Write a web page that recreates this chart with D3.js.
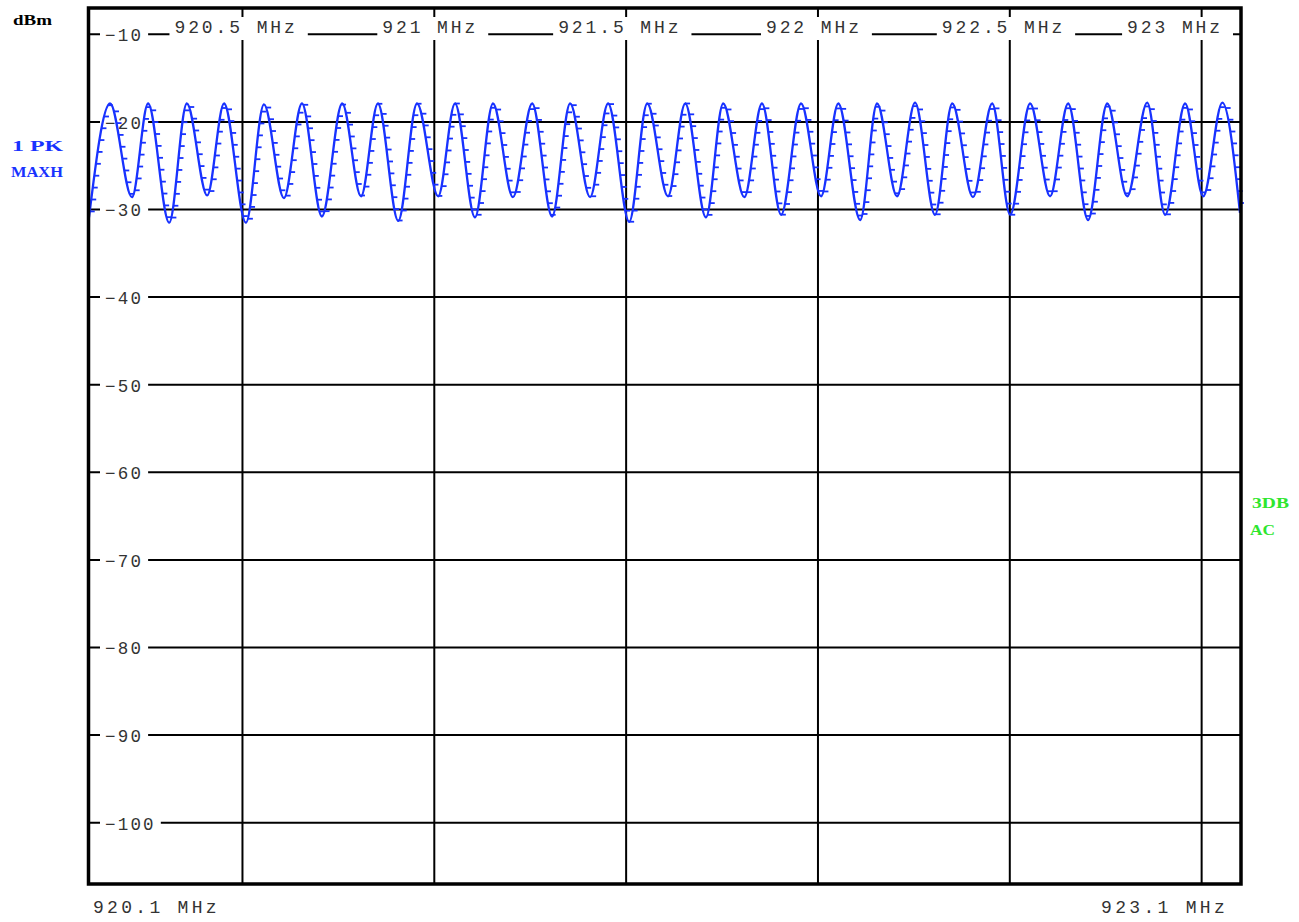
<!DOCTYPE html>
<html><head><meta charset="utf-8">
<script src="https://cdn.jsdelivr.net/npm/d3@7"></script>
<style>html,body{margin:0;padding:0;background:#fff;}svg{display:block;}</style>
</head><body>
<svg id="c" width="1299" height="922"></svg>
<script>
// ---- data ----
const freqMHz = [920.100, 920.155, 920.212, 920.254, 920.309, 920.355, 920.408, 920.452, 920.509, 920.556,
  920.608, 920.655, 920.707, 920.760, 920.809, 920.853, 920.906, 920.955, 921.010, 921.054,
  921.106, 921.153, 921.205, 921.255, 921.307, 921.354, 921.406, 921.453, 921.508, 921.555,
  921.609, 921.654, 921.708, 921.753, 921.808, 921.854, 921.904, 921.956, 922.008, 922.053,
  922.110, 922.154, 922.206, 922.253, 922.305, 922.350, 922.404, 922.454, 922.501, 922.553,
  922.605, 922.652, 922.704, 922.754, 922.806, 922.858, 922.905, 922.957, 923.004, 923.054, 923.100];
const levelDbm = [-30.9, -17.9, -28.6, -17.9, -31.5, -17.9, -28.4, -17.9, -31.5, -18.0,
  -28.7, -17.9, -30.8, -17.9, -28.5, -17.9, -31.3, -17.9, -28.5, -17.9,
  -30.9, -17.9, -28.6, -17.9, -30.8, -17.9, -28.6, -17.9, -31.4, -17.9,
  -28.5, -17.9, -30.9, -17.9, -28.6, -17.9, -30.6, -17.9, -28.5, -17.9,
  -31.2, -17.9, -28.5, -17.8, -30.6, -17.9, -28.6, -17.9, -30.6, -17.9,
  -28.5, -17.9, -31.2, -17.9, -28.5, -17.8, -30.6, -17.9, -28.5, -17.8, -30.4];
const yTickValues = [-10, -20, -30, -40, -50, -60, -70, -80, -90, -100];
const xGridValues = [920.5, 921, 921.5, 922, 922.5, 923];
const startLabel = "920.1 MHz";
const stopLabel = "923.1 MHz";
const unitLabel = "dBm";
const traceLabels = ["1 PK", "MAXH"];
const sideLabels = ["3DB", "AC"];

// ---- layout ----
const pL = 89, pR = 1240, pT = 8, pB = 884;
const x = d3.scaleLinear().domain([920.1, 923.1]).range([pL, pR]);
const y = d3.scaleLinear().domain([-107, -7]).range([pB, pT]);
const svg = d3.select("#c");
const BLUE = "#1832ff", GREEN = "#2ee62e", TXT = "#333";
const mono = "'Liberation Mono', 'DejaVu Sans Mono', monospace";

svg.append("rect").attr("width", 1299).attr("height", 922).attr("fill", "#fff");

// grid via axes
const gy = svg.append("g").attr("transform", `translate(${pL},0)`)
  .call(d3.axisLeft(y).tickValues(yTickValues).tickSize(-(pR - pL)).tickFormat("").offset(0));
gy.select(".domain").remove();
gy.selectAll("line").attr("stroke", "#000").attr("stroke-width", 2);

const gx = svg.append("g").attr("transform", `translate(0,${pT})`)
  .call(d3.axisTop(x).tickValues(xGridValues).tickSize(-(pB - pT)).tickFormat("").offset(0));
gx.select(".domain").remove();
gx.selectAll("line").attr("stroke", "#000").attr("stroke-width", 2);

// y labels with white boxes
const yl = svg.append("g");
yTickValues.forEach(v => {
  const g = yl.append("g");
  const t = g.append("text").attr("x", 105).attr("y", y(v) + 7)
    .attr("font-family", mono).attr("font-size", 17.5).attr("letter-spacing", 2.2)
    .attr("fill", TXT).text("\u2212" + Math.abs(v));
  const w = t.node().getComputedTextLength();
  g.insert("rect", "text").attr("x", 100).attr("y", y(v) - 6)
    .attr("width", w + 10).attr("height", 16).attr("fill", "#fff");
});

// top frequency labels on the -10 line
const tl = svg.append("g");
xGridValues.forEach(v => {
  const half = Math.abs(v - Math.round(v)) > 1e-9;
  const g = tl.append("g");
  const t = g.append("text").attr("y", 33)
    .attr("font-family", mono).attr("font-size", 18).attr("letter-spacing", 2.9)
    .attr("fill", TXT).text(String(v) + " MHz");
  const w = t.node().getComputedTextLength();
  let sx = half ? x(v) - 68 : x(v) - 52;
  if (sx + w + 10 > pR - 7) sx = pR - 7 - 10 - w;
  t.attr("x", sx);
  g.insert("rect", "text").attr("x", sx - 5).attr("y", 17)
    .attr("width", w + 15).attr("height", 23).attr("fill", "#fff");
});

// trace
const pts = freqMHz.map((f, i) => [x(f), y(levelDbm[i])]);
const line = d3.line().curve(d3.curveMonotoneX);
const path = svg.append("path").attr("d", line(pts)).attr("fill", "none")
  .attr("stroke", BLUE).attr("stroke-width", 2.3).attr("stroke-linejoin", "round");
const pn = path.node(), L = pn.getTotalLength();
const tk = svg.append("g").attr("stroke", BLUE).attr("stroke-width", 1.8);
for (let s = 6; s < L; s += 12) {
  const p = pn.getPointAtLength(s);
  tk.append("line").attr("x1", p.x).attr("y1", p.y).attr("x2", p.x + 5).attr("y2", p.y);
}

// frame
svg.append("rect").attr("x", pL - 0.5).attr("y", pT).attr("width", pR + 1 - (pL - 0.5)).attr("height", pB - pT)
  .attr("fill", "none").attr("stroke", "#000").attr("stroke-width", 3.5);

// bottom labels
svg.append("text").attr("x", 93).attr("y", 913).attr("font-family", mono).attr("font-size", 18)
  .attr("letter-spacing", 3.3).attr("fill", TXT).text(startLabel);
svg.append("text").attr("x", 1228).attr("y", 913).attr("text-anchor", "end").attr("font-family", mono).attr("font-size", 18)
  .attr("letter-spacing", 3.3).attr("fill", TXT).text(stopLabel);

// side labels
const serif = "'Liberation Serif', 'DejaVu Serif', serif";
function lab(txt, xx, yy, len, color, size) {
  svg.append("text").attr("x", xx).attr("y", yy).attr("font-family", serif).attr("font-weight", "bold")
    .attr("font-size", size).attr("fill", color).attr("textLength", len).attr("lengthAdjust", "spacingAndGlyphs").text(txt);
}
lab(unitLabel, 13, 25, 39, "#000", 14);
lab(traceLabels[0], 12, 151, 51, BLUE, 14.5);
lab(traceLabels[1], 11, 177, 52, BLUE, 14.5);
lab(sideLabels[0], 1252, 508, 37, GREEN, 14.5);
lab(sideLabels[1], 1250, 535, 25, GREEN, 14.5);
</script>
</body></html>
